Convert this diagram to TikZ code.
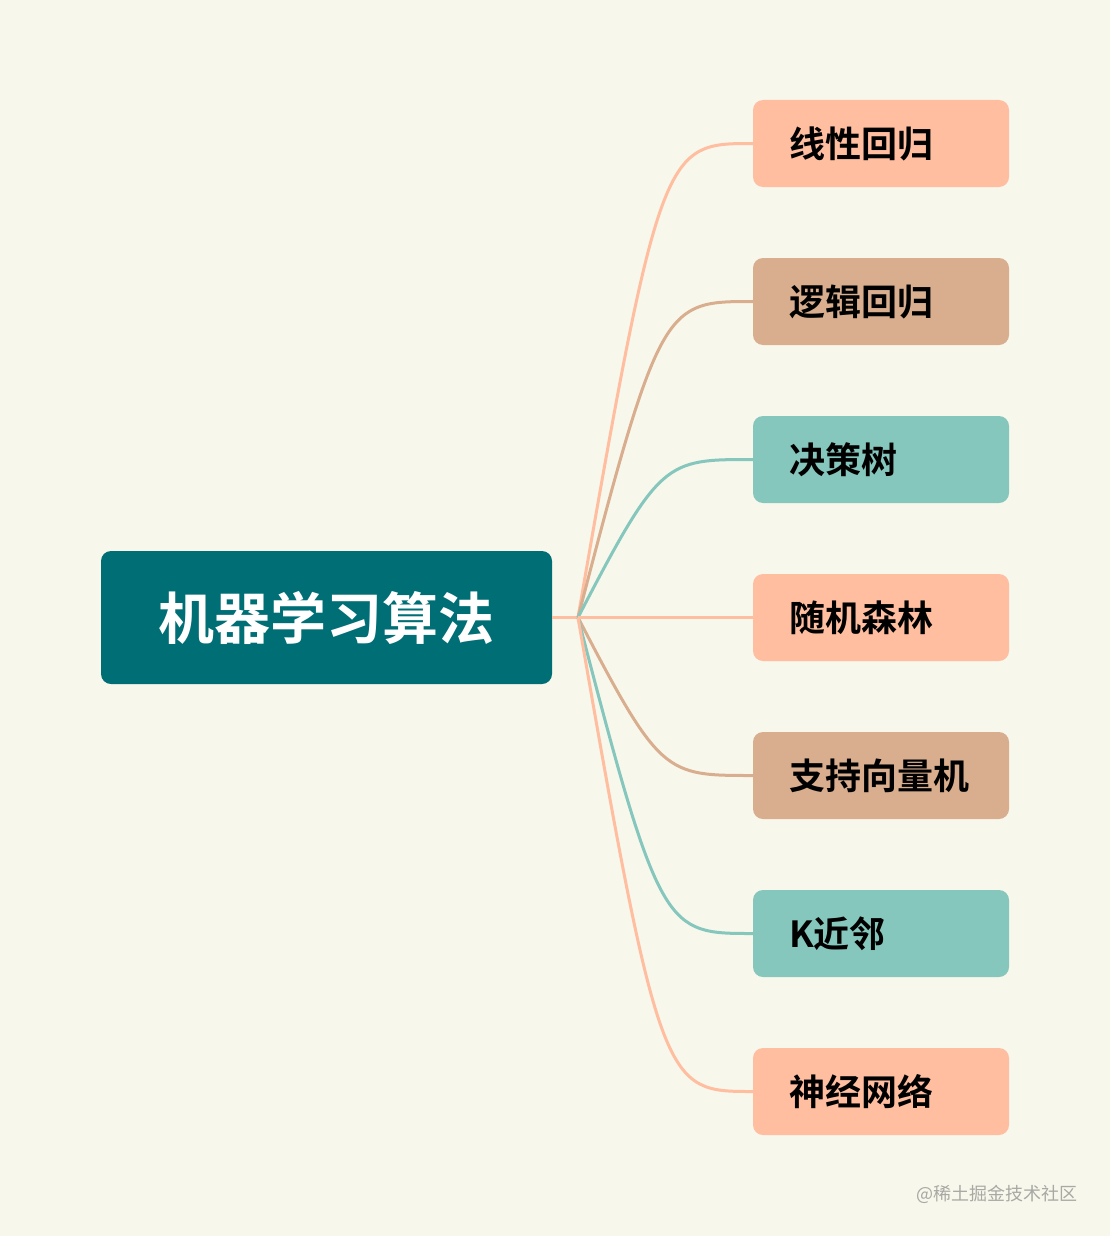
\documentclass[tikz,border=0pt]{standalone}
\usepackage{fontspec}
\newfontfamily\cjk{Noto Sans CJK SC}[BoldFont={Noto Sans CJK SC Bold}]
\definecolor{bg}{HTML}{F8F7EC}
\definecolor{rootc}{HTML}{006E75}
\definecolor{salmon}{HTML}{FFBEA0}
\definecolor{tan}{HTML}{D9AE8F}
\definecolor{teal}{HTML}{85C6BD}
\definecolor{wm}{HTML}{A8A8A4}
\begin{document}
\begin{tikzpicture}[x=1pt,y=-1pt,
  rootbox/.style={fill=rootc, rounded corners=10pt, minimum width=451pt, minimum height=133pt,
    text=white, font=\cjk\bfseries\fontsize{56}{60}\selectfont, inner sep=0pt},
  leaf/.style={fill=#1, rounded corners=10pt, minimum width=256pt, minimum height=87pt,
    text width=184pt, inner xsep=36pt, inner ysep=0pt, align=left,
    font=\cjk\bfseries\fontsize{36}{40}\selectfont, text=black},
  conn/.style={draw=#1, line width=3pt}]
\fill[bg] (0,0) rectangle (1110,1236);
\useasboundingbox (0,0) rectangle (1110,1236);
\node[rootbox] (root) at (326.5,617.5) {机器学习算法};
\coordinate (fork) at (578,617.5);
\node[leaf=salmon] (n1) at (881,143.5) {线性回归};
\node[leaf=tan] (n2) at (881,301.5) {逻辑回归};
\node[leaf=teal] (n3) at (881,459.5) {决策树};
\node[leaf=salmon] (n4) at (881,617.5) {随机森林};
\node[leaf=tan] (n5) at (881,775.5) {支持向量机};
\node[leaf=teal] (n6) at (881,933.5) {K近邻};
\node[leaf=salmon] (n7) at (881,1091.5) {神经网络};
\draw[conn=salmon] (root.east) -- (fork);
\foreach \n/\c in {n1/salmon,n2/tan,n3/teal,n5/tan,n6/teal,n7/salmon}{
  \draw[conn=\c] (fork) .. controls (660,0 |- \n.west) and (665,0 |- \n.west) .. (\n.west);
}
\draw[conn=salmon] (fork) -- (n4.west);
\node[anchor=east, text=wm, font=\cjk\fontsize{18}{20}\selectfont, inner sep=0pt] (wmark) at (1078,1194) {@稀土掘金技术社区};
\end{tikzpicture}
\end{document}
